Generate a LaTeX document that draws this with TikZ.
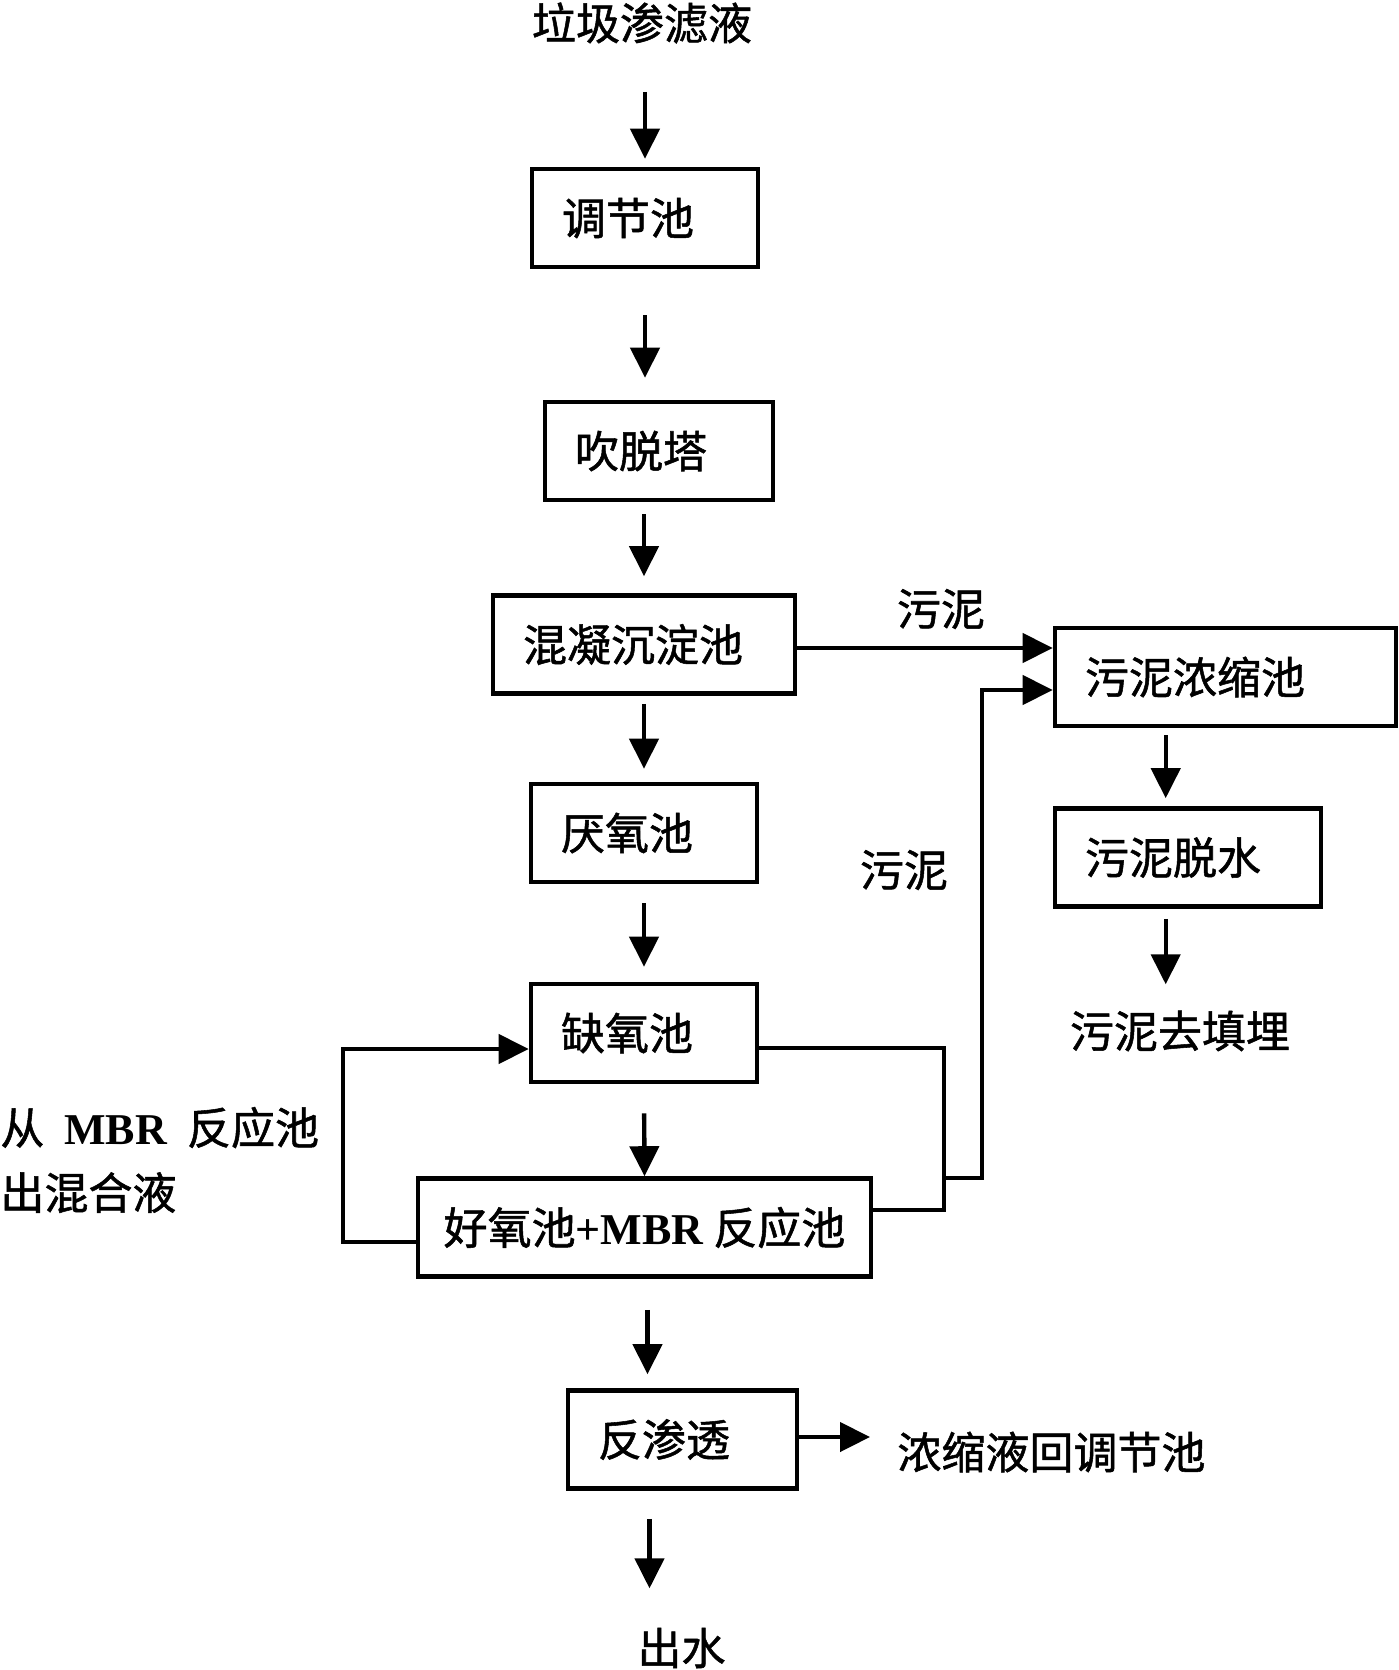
\documentclass[tikz,border=0pt]{standalone}
\usepackage{fontspec}
\setmainfont{Liberation Serif}
\newfontfamily\cjk[FakeBold=1.2]{Noto Sans CJK SC}
\usetikzlibrary{arrows.meta}
\newcommand{\mbr}[1]{{\normalfont\bfseries #1}}

\begin{document}
\begin{tikzpicture}[x=0.5pt, y=-0.5pt,
	tank/.style={draw, line width=2.3pt, minimum height=49pt, inner xsep=15pt, align=left, font=\cjk\fontsize{22pt}{26pt}\selectfont},
	lbl/.style={inner sep=0pt, font=\cjk\fontsize{22pt}{26pt}\selectfont},
	flow/.style={line width=2.2pt, -{Triangle[length=15pt,width=14.5pt]}},
	pipe/.style={line width=2.2pt}]
			      \useasboundingbox (0,0) rectangle (1398,1670);
			      \node[lbl] (leachate) at (642,23) {垃圾渗滤液};
			      \node[tank, text width=83pt] (tiaojie) at (645,218) {调节池};
			      \node[tank, text width=84pt] (chuituo) at (659,451) {吹脱塔};
			      \node[tank, text width=121pt] (hunning) at (644,644.5) {混凝沉淀池};
			      \node[tank, text width=83pt] (yanyang) at (644,833) {厌氧池};
			      \node[tank, text width=83pt] (queyang) at (644,1033) {缺氧池};
			      \node[tank, minimum width=226.5pt, inner xsep=6pt] (haoyang) at (644.5,1227.5) {好氧池\mbr{+MBR}\hspace{5pt}反应池};
			      \node[tank, text width=84.5pt] (fanshen) at (682.5,1439.5) {反渗透};
			      \node[tank, text width=140.5pt] (nongsuo) at (1225.5,677) {污泥浓缩池};
			      \node[tank, text width=103pt] (tuoshui) at (1188,857.5) {污泥脱水};
			      \node[lbl] (sludgetop) at (941,609) {污泥};
			      \node[lbl] (sludgeside) at (904,870) {污泥};
			      \node[lbl] (landfill) at (1180,1031) {污泥去填埋};
			      \node[lbl, anchor=west] (concback) at (897,1452) {浓缩液回调节池};
			      \node[lbl] (effluent) at (681.5,1648) {出水};
			      \node[lbl, anchor=west, align=left, font=\cjk\fontsize{22pt}{32.5pt}\selectfont] (mixreturn) at (0,1160) {从\hspace{10pt}\mbr{MBR}\hspace{10pt}反应池\\出混合液};
			      \coordinate (bustop) at (944,1048);
			      \coordinate (busbot) at (944,1210);
			      \coordinate (busjoin) at (944,1178);
			      \coordinate (risetop) at (982,690);
			      \coordinate (retbot) at (343,1242);
			      \coordinate (rettop) at (343,1049);
			      \draw[flow, shorten <=24pt, shorten >=4pt] (leachate.south -| tiaojie.north) -- (tiaojie.north);
			      \draw[flow, shorten <=23pt, shorten >=11pt] (tiaojie.south) -- (tiaojie.south |- chuituo.north);
			      \draw[flow, shorten <=6pt, shorten >=8.5pt] (hunning.north |- chuituo.south) -- (hunning.north);
			      \draw[flow, shorten <=4pt, shorten >=6.5pt] (hunning.south) -- (yanyang.north);
			      \draw[flow, shorten <=9.5pt, shorten >=7.5pt] (yanyang.south) -- (queyang.north);
			      \draw[flow, shorten <=14.5pt] (queyang.south) -- (haoyang.north);
			      \draw[flow, shorten <=15.5pt, shorten >=7pt] ([xshift=1.5pt]haoyang.south) -- ([xshift=1.5pt]haoyang.south |- fanshen.north);
			      \draw[flow, shorten <=14pt, shorten >=19.5pt] ([xshift=2.5pt]haoyang.south |- fanshen.south) -- ([xshift=2.5pt]haoyang.south |- effluent.north);
			      \draw[flow, shorten >=13.5pt] (fanshen.east |- 0,1437) -- (concback.west |- 0,1437);
			      \draw[flow] (hunning.east |- 0,648) -- (nongsuo.west |- 0,648);
			      \draw[flow, shorten <=3.5pt, shorten >=4pt] ([xshift=56.5pt]nongsuo.south west) -- ([xshift=56.5pt]tuoshui.north west);
			      \draw[flow, shorten <=5pt, shorten >=13pt] ([xshift=56.5pt]tuoshui.south west) -- ([xshift=56.5pt]tuoshui.south west |- landfill.north);
			      \draw[pipe] (queyang.east |- bustop) -- (bustop) -- (busbot) -- (haoyang.east |- busbot);
			      \draw[flow] (busjoin) -| (risetop) -- (nongsuo.west |- risetop);
			      \draw[flow] (haoyang.west |- retbot) -- (retbot) -- (rettop) -- (queyang.west |- rettop);
\end{tikzpicture}
\end{document}
